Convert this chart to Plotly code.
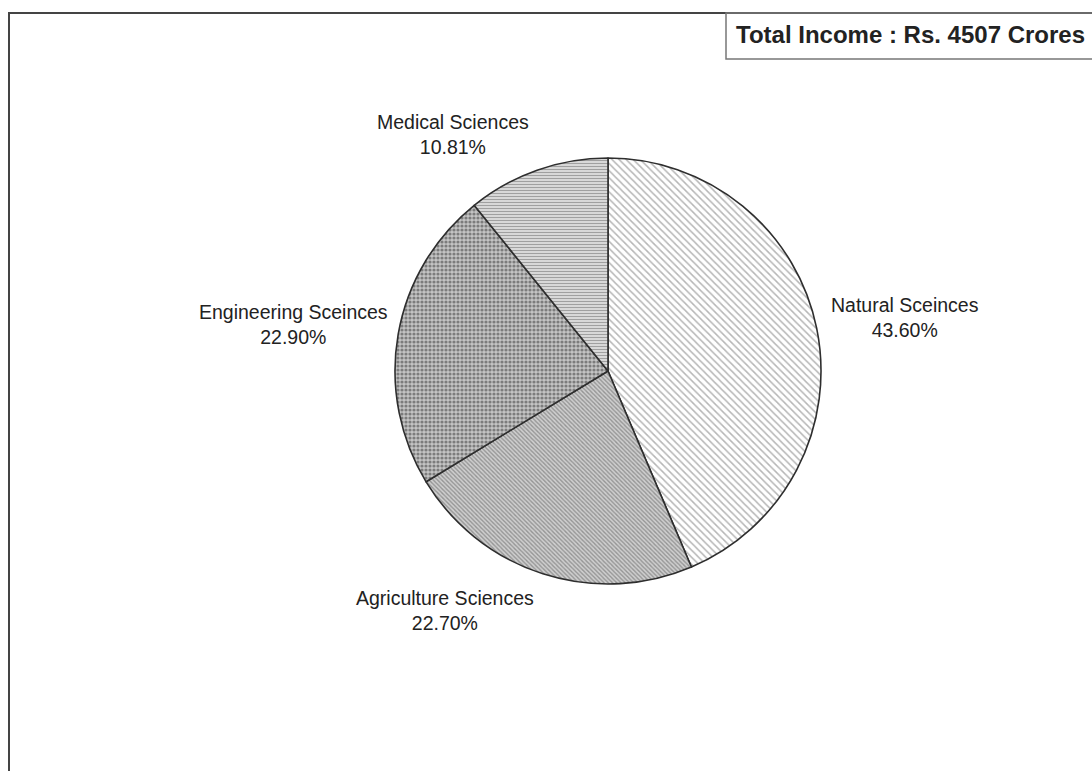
import plotly.graph_objects as go

W, H = 1092, 771

categories = ["Natural Sceinces", "Agriculture Sciences", "Engineering Sceinces", "Medical Sciences"]
shares = [43.60, 22.70, 22.90, 10.81]
share_labels = ["43.60%", "22.70%", "22.90%", "10.81%"]
title_text = "Total Income : Rs. 4507 Crores"

patterns = ["\\", "\\", ".", "-"]
pat_colors = ["#6e6e6e", "#5a5a5a", "#333333", "#5e5e5e"]
bg_colors = ["#ffffff", "#cfcfcf", "#c4c4c4", "#e2e2e2"]
pat_size = [5, 3, 4, 3]
pat_solid = [0.3, 0.45, 0.5, 0.45]


def px(x):
    return x / W


def py(y):
    return 1 - y / H


fig = go.Figure()
fig.add_trace(go.Pie(
    labels=categories,
    values=shares,
    sort=False,
    direction="clockwise",
    rotation=0,
    textinfo="none",
    hoverinfo="label+percent",
    showlegend=False,
    domain=dict(x=[px(395), px(821)], y=[py(584), py(158)]),
    marker=dict(
        colors=bg_colors,
        line=dict(color="#2e2e2e", width=1.6),
        pattern=dict(shape=patterns, fgcolor=pat_colors, bgcolor=bg_colors,
                     size=pat_size, solidity=pat_solid, fillmode="overlay"),
    ),
))

label_pos = [(905, 317), (445, 610), (293, 324), (453, 134)]
for cat, lab, (x, y) in zip(categories, share_labels, label_pos):
    fig.add_annotation(
        x=px(x), y=py(y), xref="paper", yref="paper",
        text=f"{cat}<br>{lab}", showarrow=False,
        font=dict(family="Liberation Sans, Arial", size=19.5, color="#222222"),
        align="center", xanchor="center", yanchor="middle",
    )

fig.add_annotation(
    x=px(734), y=py(35), xref="paper", yref="paper",
    text=f"<b>{title_text}</b>", showarrow=False,
    font=dict(family="Liberation Sans, Arial", size=24, color="#222222"),
    xanchor="left", yanchor="middle",
)

shapes = [
    dict(type="line", x0=px(8), x1=px(1100), y0=py(13), y1=py(13), line=dict(color="#444444", width=2)),
    dict(type="line", x0=px(9), x1=px(9), y0=py(13), y1=py(780), line=dict(color="#444444", width=2)),
    dict(type="rect", x0=px(726), x1=px(1110), y0=py(59), y1=py(13), line=dict(color="#777777", width=1.5)),
]
for s in shapes:
    s.update(xref="paper", yref="paper")

fig.update_layout(
    width=W, height=H,
    margin=dict(l=0, r=0, t=0, b=0),
    paper_bgcolor="white", plot_bgcolor="white",
    shapes=shapes,
)

post = ("document.body.style.margin='0';"
        "document.body.style.overflow='hidden';"
        "document.documentElement.style.overflow='hidden';")
fig.write_html("out.html", post_script=post, config={"displayModeBar": False})
